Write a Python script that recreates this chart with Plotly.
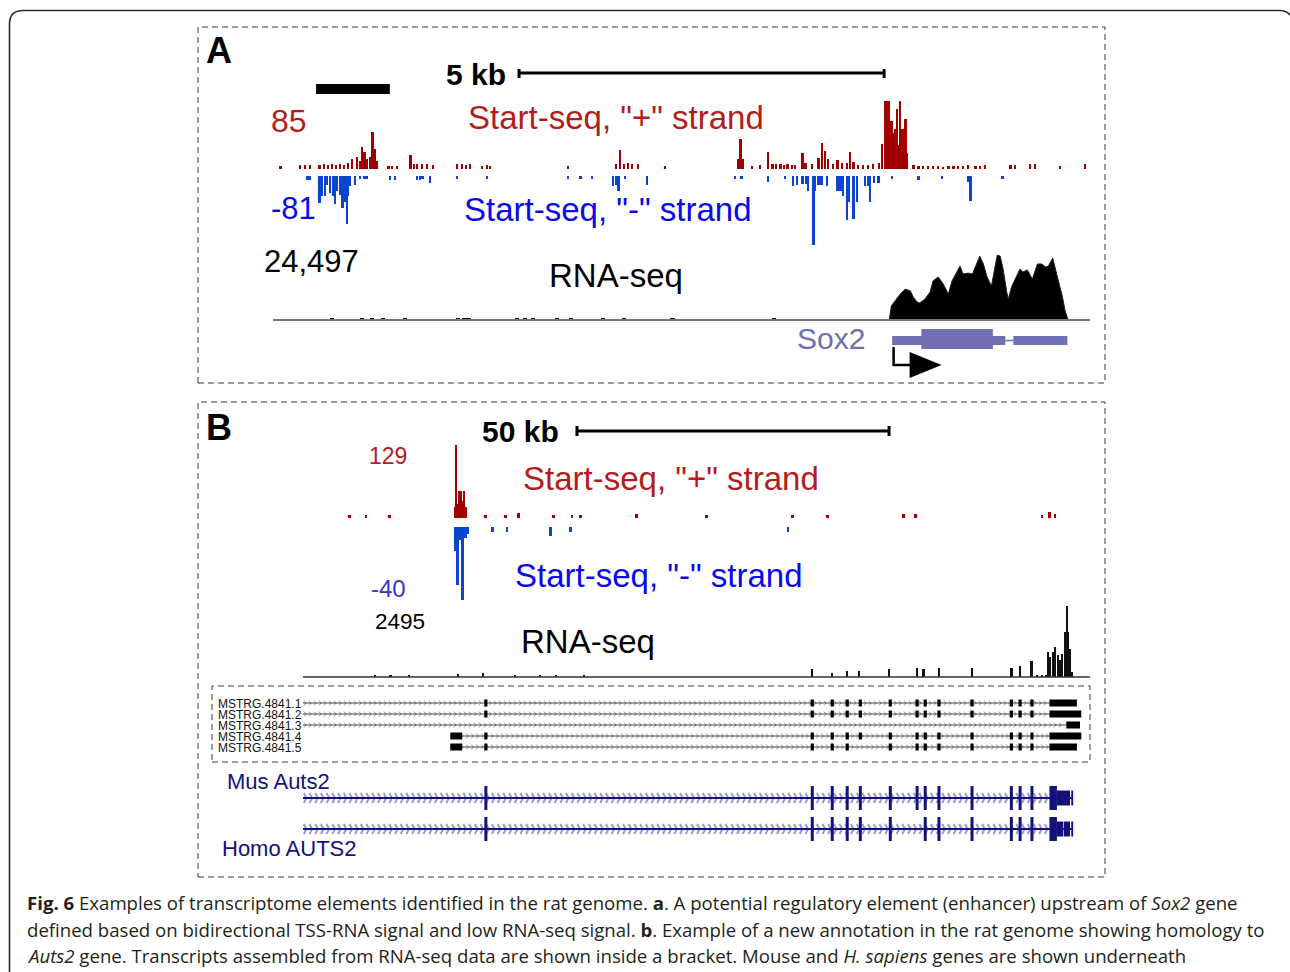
import plotly.graph_objects as go

# ---------------- canvas helpers ----------------
W, H = 1290, 972
def fx(p): return p / W
def fy(p): return 1 - p / H

FONT = "Liberation Sans, Arial, Helvetica, sans-serif"
CAP_FONT = "Open Sans, Noto Sans, sans-serif"
RED_TXT = "#b41c1c"
RED_BAR = "#a00000"
BLUE_TXT = "#0808f0"
BLUE_BAR = "#0a45d0"
SOX_COL = "#6f6fb2"
NAVY = "#12127a"
CHEV = "#8a8acc"

# ================= DATA : panel A (Sox2 locus, kb) =================
a_plus_pos = [0.10, 0.37, 0.44, 0.51, 0.64, 0.70, 0.75, 0.81, 0.86, 0.92, 0.97, 1.03,
              1.08, 1.15, 1.19, 1.22, 1.25, 1.29, 1.33, 1.36, 1.40, 1.42,
              1.58, 1.63, 1.70, 1.88, 1.93, 1.97, 2.04, 2.11, 2.19,
              2.52, 2.59, 2.64, 2.70, 2.86, 2.93, 2.97, 4.04,
              4.70, 4.75, 4.81, 4.86, 4.92, 5.00, 5.37,
              6.37, 6.40, 6.44, 6.56, 6.67, 6.78, 6.84, 6.89, 6.95, 7.00, 7.05,
              7.11, 7.15, 7.25, 7.29, 7.38, 7.47, 7.52, 7.56, 7.60,
              7.67, 7.73, 7.79, 7.86, 7.90, 7.95, 8.01, 8.08, 8.15, 8.22,
              8.30, 8.34, 8.38, 8.41, 8.44, 8.47, 8.49, 8.52, 8.55, 8.58, 8.59, 8.62, 8.63, 8.66, 8.68,
              8.77, 8.84, 8.90, 8.97, 9.04, 9.11, 9.18, 9.25, 9.32, 9.38, 9.45, 9.52, 9.62, 9.68, 9.75,
              10.10, 10.16, 10.37, 10.44, 10.78, 11.12]
a_plus_val = [4, 5, 5, 5, 5, 6, 5, 6, 5, 6, 5, 7,
              12, 15, 10, 28, 21, 12, 15, 46, 25, 10,
              4, 4, 4, 18, 6, 6, 6, 6, 5,
              6, 6, 5, 6, 4, 5, 4, 4,
              6, 24, 6, 8, 6, 6, 4,
              12, 38, 12, 4, 5, 21, 6, 6, 6, 5, 6,
              5, 5, 20, 8, 6, 14, 32, 22, 12,
              6, 11, 8, 8, 21, 9, 5, 5, 5, 6,
              8, 31, 85, 85, 85, 60, 45, 50, 75, 30, 85, 50, 40, 62, 20,
              5, 4, 4, 4, 4, 4, 3, 4, 4, 4, 4, 5, 4, 4, 5,
              5, 5, 6, 6, 4, 6]

a_minus_pos = [0.47, 0.51, 0.64, 0.67, 0.71, 0.74, 0.78, 0.82, 0.85, 0.88, 0.92, 0.95, 0.99, 1.01, 1.03, 1.05,
               1.12, 1.19, 1.25, 1.29, 1.60, 1.67, 1.97, 2.01, 2.05, 2.15, 2.52, 2.93,
               4.04, 4.21, 4.37, 4.66, 4.70, 4.73, 4.82, 5.12, 6.33, 6.42, 6.78, 7.01,
               7.12, 7.18, 7.25, 7.30, 7.33, 7.40, 7.42, 7.47, 7.51, 7.59,
               7.73, 7.77, 7.81, 7.86, 7.89, 7.95, 8.00, 8.11, 8.15, 8.18, 8.23, 8.29,
               8.48, 8.84, 9.16, 9.52, 9.55, 9.99]
a_minus_val = [5, 5, 32, 24, 24, 10, 20, 24, 33, 18, 22, 38, 30, 56, 24, 12,
               10, 4, 4, 3, 5, 5, 5, 5, 4, 8, 4, 4,
               4, 4, 4, 12, 10, 18, 4, 10, 4, 4, 7, 4,
               12, 10, 9, 9, 18, 81, 18, 10, 10, 12,
               18, 18, 24, 52, 30, 50, 30, 12, 12, 30, 8, 8,
               4, 5, 4, 7, 29, 3]

a_rna_pos = [8.44, 8.47, 8.59, 8.66, 8.73, 8.77, 8.82, 8.86, 8.93, 9.00, 9.04, 9.11, 9.18, 9.25,
             9.30, 9.37, 9.41, 9.45, 9.52, 9.58, 9.62, 9.68, 9.73, 9.78, 9.84, 9.89, 9.92, 9.96,
             10.00, 10.05, 10.07, 10.12, 10.19, 10.23, 10.27, 10.33, 10.40, 10.47, 10.53, 10.58,
             10.62, 10.68, 10.74, 10.81, 10.85, 10.89]
a_rna_val = [0, 5300, 9600, 11500, 10800, 8500, 6700, 6300, 7800, 10400, 14500, 16000, 13400, 9600,
             14500, 18200, 20000, 17100, 17400, 17100, 19700, 23700, 20800, 16000, 12600, 19700, 24100, 23700,
             18900, 10400, 7800, 12600, 16300, 18900, 17800, 18600, 15200, 20800, 20800, 19700,
             20000, 23000, 16300, 8900, 3300, 0]
a_rna_bg_pos = [0.81, 1.22, 1.36, 1.51, 1.81, 2.53, 2.62, 2.68, 3.34, 3.45, 3.56, 3.89, 4.08, 4.52, 4.81, 5.47, 6.86]
a_rna_bg_val = [700, 800, 700, 600, 700, 800, 600, 700, 600, 700, 600, 800, 600, 700, 700, 600, 800]

sox2_thin_start = [8.48, 10.14]
sox2_thin_end = [10.03, 10.88]
sox2_thick = [8.88, 9.86]
sox2_tss = 8.50
enhancer_region = [0.59, 1.60]
a_scale_start, a_scale_len = 3.37, 5
a_xrange = [0, 11.19]
a_plus_max, a_minus_max, a_rna_max = 85, 81, 24497

# ================= DATA : panel B (Auts2 locus, kb) =================
b_plus_pos = [7.5, 10.1, 13.9, 24.4, 24.5, 24.7, 25.0, 25.3, 25.5, 25.8, 26.1, 29.2, 32.4, 34.5,
              40.1, 43.1, 44.4, 53.5, 64.7, 78.4, 84.1, 96.2, 98.1, 118.4, 119.6, 120.5]
b_plus_val = [5, 5, 5, 20, 129, 25, 47, 47, 30, 47, 20, 5, 5, 9,
              5, 5, 5, 7, 5, 5, 5, 7, 7, 5, 10, 7]
b_minus_pos = [24.4, 24.7, 25.0, 25.3, 25.6, 26.0, 26.3, 30.4, 32.7, 39.6, 42.9, 77.7]
b_minus_val = [13, 32, 7, 7, 40, 6, 4, 2.5, 3, 5, 3, 2.5]
b_rna_pos = [11.5, 14.0, 17.0, 24.8, 28.8, 34.0, 38.0, 40.5, 45.0,
             81.6, 84.8, 87.2, 89.1, 93.9, 98.4, 99.4, 101.9, 107.2, 113.5, 114.9, 116.7,
             117.6, 118.4, 119.1, 119.4, 119.7, 120.2, 120.5, 121.0, 121.3, 121.6,
             122.1, 122.4, 122.6, 122.9, 123.2]
b_rna_val = [40, 40, 40, 100, 140, 50, 40, 50, 40,
             280, 140, 210, 210, 280, 315, 280, 315, 315, 315, 385, 560,
             70, 70, 70, 875, 700, 875, 1050, 770, 600, 805,
             1575, 2495, 1575, 980, 175]
b_scale_start, b_scale_len = 43.9, 50
b_xrange = [0, 126.1]
b_plus_max, b_minus_max, b_rna_max = 129, 40, 2495

core_exons = [29.3, 81.6, 84.8, 87.2, 89.3, 94.1, 98.4, 99.7, 101.9, 107.2, 113.5, 114.9, 116.8]
mstrg_names = ["MSTRG.4841.1", "MSTRG.4841.2", "MSTRG.4841.3", "MSTRG.4841.4", "MSTRG.4841.5"]
mstrg_line_start = [0, 0, 0, 23.6, 23.6]
mstrg_first_exon = [None, None, None, [23.6, 25.5], [23.6, 25.5]]
mstrg_exons = [core_exons, core_exons, [],
               core_exons, [e for e in core_exons if e != 89.3]]
mstrg_last_exon = [[119.6, 124.0], [119.6, 124.7], [122.3, 124.5], [119.6, 124.7], [119.6, 124.0]]

mus_exons = core_exons
homo_exons = [e for e in core_exons if e != 98.4]
ortho_line = [0, 123.3]
mus_utr_tall = [[119.6, 120.8]]
mus_utr_mid = [[120.8, 122.9], [123.1, 123.4]]
homo_utr_tall = [[119.6, 120.8]]
homo_utr_mid = [[120.8, 121.8], [121.9, 122.9], [123.1, 123.4]]

# ================= figure =================
fig = go.Figure()
shapes = []
annots = []

def rect(xref, x0, x1, y0, y1, color):
    shapes.append(dict(type="rect", xref=xref, yref="paper", x0=x0, x1=x1,
                       y0=fy(y1), y1=fy(y0), fillcolor=color, line=dict(width=0), layer="above"))

def hline(xref, x0, x1, y, color, width):
    shapes.append(dict(type="line", xref=xref, yref="paper", x0=x0, x1=x1, y0=fy(y), y1=fy(y),
                       line=dict(color=color, width=width), layer="above"))

def vline(xref, x, y0, y1, color, width):
    shapes.append(dict(type="line", xref=xref, yref="paper", x0=x, x1=x, y0=fy(y0), y1=fy(y1),
                       line=dict(color=color, width=width), layer="above"))

def dbox(x0, y0, x1, y1):
    shapes.append(dict(type="rect", xref="paper", yref="paper", x0=fx(x0), x1=fx(x1),
                       y0=fy(y1), y1=fy(y0), line=dict(color="#3a3a3a", width=1, dash="6px,4px"),
                       fillcolor="rgba(0,0,0,0)"))

def ann(text, x, y, size, color="#000", anchor="left", family=FONT):
    annots.append(dict(text=text, x=fx(x), y=fy(y), xref="paper", yref="paper",
                       xanchor=anchor, yanchor="middle", showarrow=False,
                       font=dict(family=family, size=size, color=color)))

def chevrons(x0, x1, step, y, dx, dy):
    xs, ys = [], []
    x = x0 + step * 0.6
    while x < x1 - step * 0.2:
        xs += [x - dx, x, x - dx, None]
        ys += [y - dy, y, y + dy, None]
        x += step
    return xs, ys

# ---- tracks: panel A ----
fig.add_trace(go.Bar(x=a_plus_pos, y=a_plus_val, width=0.034, marker=dict(color=RED_BAR, line_width=0),
                     xaxis="x", yaxis="y"))
fig.add_trace(go.Bar(x=a_minus_pos, y=[-v for v in a_minus_val], width=0.034,
                     marker=dict(color=BLUE_BAR, line_width=0), xaxis="x", yaxis="y2"))
fig.add_trace(go.Scatter(x=a_rna_pos, y=a_rna_val, mode="lines", fill="tozeroy", fillcolor="#000",
                         line=dict(color="#222", width=1), xaxis="x", yaxis="y3"))
fig.add_trace(go.Bar(x=a_rna_bg_pos, y=a_rna_bg_val, width=0.06, marker=dict(color="#000", line_width=0),
                     xaxis="x", yaxis="y3"))

# ---- tracks: panel B ----
fig.add_trace(go.Bar(x=b_plus_pos, y=b_plus_val, width=0.45, marker=dict(color=RED_BAR, line_width=0),
                     xaxis="x2", yaxis="y4"))
fig.add_trace(go.Bar(x=b_minus_pos, y=[-v for v in b_minus_val], width=0.45,
                     marker=dict(color=BLUE_BAR, line_width=0), xaxis="x2", yaxis="y5"))
fig.add_trace(go.Bar(x=b_rna_pos, y=b_rna_val, width=0.38, marker=dict(color="#111", line_width=0),
                     xaxis="x2", yaxis="y6"))

# ---- baselines ----
hline("x", a_xrange[0], a_xrange[1], 320, "#777", 2)
hline("x2", b_xrange[0], b_xrange[1], 677, "#333", 1.5)

# ---- scale bars and enhancer ----
hline("x", a_scale_start, a_scale_start + a_scale_len, 73, "#000", 3)
vline("x", a_scale_start, 69, 78, "#000", 3)
vline("x", a_scale_start + a_scale_len, 69, 78, "#000", 3)
rect("x", enhancer_region[0], enhancer_region[1], 84, 94, "#000")
hline("x2", b_scale_start, b_scale_start + b_scale_len, 431, "#000", 3)
vline("x2", b_scale_start, 426, 436, "#000", 3)
vline("x2", b_scale_start + b_scale_len, 426, 436, "#000", 3)

# ---- Sox2 gene model ----
for s, e in zip(sox2_thin_start, sox2_thin_end):
    rect("x", s, e, 336, 345, SOX_COL)
hline("x", sox2_thin_end[0], sox2_thin_start[1], 340.5, SOX_COL, 1.5)
rect("x", sox2_thick[0], sox2_thick[1], 329, 349, SOX_COL)
kb_px = (a_xrange[1] - a_xrange[0]) / (1090 - 273)
shapes.append(dict(type="path", xref="x", yref="paper",
                   path=f"M {sox2_tss},{fy(347)} L {sox2_tss},{fy(365)} L {sox2_tss + 18 * kb_px},{fy(365)}",
                   line=dict(color="#000", width=2.5), layer="above"))
shapes.append(dict(type="path", xref="x", yref="paper",
                   path=(f"M {sox2_tss + 16 * kb_px},{fy(352)} L {sox2_tss + 48 * kb_px},{fy(365)} "
                         f"L {sox2_tss + 16 * kb_px},{fy(378)} Z"),
                   fillcolor="#000", line=dict(width=0), layer="above"))

# ---- transcripts (MSTRG) ----
kb_px_b = (b_xrange[1] - b_xrange[0]) / (1090 - 303)
row_y = [703, 714, 725, 736, 747]
cx, cy = [], []
for i in range(5):
    y = row_y[i]
    last = mstrg_last_exon[i]
    hline("x2", mstrg_line_start[i], last[0], y, "#444", 1)
    xs, ys = chevrons(mstrg_line_start[i], last[0], 5 * kb_px_b, y, 2 * kb_px_b, 2.5)
    cx += xs; cy += ys
    if mstrg_first_exon[i]:
        rect("x2", mstrg_first_exon[i][0], mstrg_first_exon[i][1], y - 3.5, y + 3.5, "#000")
    for e in mstrg_exons[i]:
        rect("x2", e - 1.6 * kb_px_b, e + 1.6 * kb_px_b, y - 3.5, y + 3.5, "#000")
    rect("x2", last[0], last[1], y - 3.5, y + 3.5, "#000")
    ann(mstrg_names[i], 216, y + 0.5, 12, "#111")
fig.add_trace(go.Scatter(x=cx, y=cy, mode="lines", line=dict(color="#9a9a9a", width=1),
                         xaxis="x2", yaxis="y7"))

# ---- orthologous genes ----
gx, gy = [], []
for y, exons, tall, mid in [(798, mus_exons, mus_utr_tall, mus_utr_mid),
                            (829, homo_exons, homo_utr_tall, homo_utr_mid)]:
    xs, ys = chevrons(ortho_line[0], tall[0][0], 5.7 * kb_px_b, y, 2.6 * kb_px_b, 5)
    gx += xs; gy += ys
    hline("x2", ortho_line[0], ortho_line[1], y, NAVY, 2)
    for e in exons:
        rect("x2", e - 1.5 * kb_px_b, e + 1.5 * kb_px_b, y - 12, y + 12, NAVY)
    for s, e in tall:
        rect("x2", s, e, y - 12, y + 12, NAVY)
    for s, e in mid:
        rect("x2", s, e, y - 7.5, y + 7.5, NAVY)
fig.add_trace(go.Scatter(x=gx, y=gy, mode="lines", line=dict(color=CHEV, width=2),
                         opacity=0.85, xaxis="x2", yaxis="y7"))

# ---- frames ----
dbox(198, 27, 1105, 383)
dbox(198, 402, 1105, 877)
dbox(212, 686, 1090, 762)
frame = (f"M {fx(9.5)},{fy(972)} L {fx(9.5)},{fy(24)} Q {fx(9.5)},{fy(10.5)} {fx(23)},{fy(10.5)} "
         f"L {fx(1280)},{fy(10.5)} Q {fx(1287)},{fy(10.5)} {fx(1291)},{fy(16)}")
shapes.append(dict(type="path", xref="paper", yref="paper", path=frame,
                   line=dict(color="#2a2a2a", width=1.6)))

# ---- labels ----
ann("<b>A</b>", 204, 50, 36)
ann("<b>5 kb</b>", 444, 74, 30)
ann(str(a_plus_max), 269, 121, 32, RED_TXT)
ann('Start-seq, "+" strand', 466, 118, 33, RED_TXT)
ann(f"-{a_minus_max}", 269, 208, 31, BLUE_TXT)
ann('Start-seq, "-" strand', 462, 209, 33, BLUE_TXT)
ann(f"{a_rna_max:,}", 262, 262, 31, "#000")
ann("RNA-seq", 547, 275, 33, "#000")
ann("Sox2", 795, 338, 30, SOX_COL)

ann("<b>B</b>", 204, 427, 36)
ann("<b>50 kb</b>", 480, 431, 30)
ann(str(b_plus_max), 367, 456, 23, RED_TXT)
ann('Start-seq, "+" strand', 521, 478, 33, RED_TXT)
ann(f"-{b_minus_max}", 369, 588, 24, "#3838c0")
ann('Start-seq, "-" strand', 513, 575, 33, BLUE_TXT)
ann(str(b_rna_max), 373, 621, 22.5, "#000")
ann("RNA-seq", 519, 641, 33, "#000")
ann("Mus Auts2", 225, 781, 22, NAVY)
ann("Homo AUTS2", 220, 848, 22, NAVY)

cap = "#231f20"
ann("<b>Fig. 6</b> Examples of transcriptome elements identified in the rat genome. <b>a</b>. A potential "
    "regulatory element (enhancer) upstream of <i>Sox2</i> gene", 25, 902, 18.6, cap, family=CAP_FONT)
ann("defined based on bidirectional TSS-RNA signal and low RNA-seq signal. <b>b</b>. Example of a new "
    "annotation in the rat genome showing homology to", 25, 929, 18.6, cap, family=CAP_FONT)
ann("<i>Auts2</i> gene. Transcripts assembled from RNA-seq data are shown inside a bracket. Mouse and "
    "<i>H. sapiens</i> genes are shown underneath", 25, 955, 18.6, cap, family=CAP_FONT)

hidden = dict(visible=False, fixedrange=True)
fig.update_layout(
    width=W, height=H, autosize=False, margin=dict(l=0, r=0, t=0, b=0, pad=0),
    paper_bgcolor="white", plot_bgcolor="rgba(0,0,0,0)", showlegend=False, barmode="overlay",
    bargap=0,
    xaxis=dict(domain=[fx(273), fx(1090)], range=a_xrange, anchor="y", **hidden),
    xaxis2=dict(domain=[fx(303), fx(1090)], range=b_xrange, anchor="y4", **hidden),
    yaxis=dict(domain=[fy(169), fy(101)], range=[0, a_plus_max], anchor="x", **hidden),
    yaxis2=dict(domain=[fy(245), fy(176)], range=[-a_minus_max, 0], anchor="x", **hidden),
    yaxis3=dict(domain=[fy(320), fy(254)], range=[0, a_rna_max], anchor="x", **hidden),
    yaxis4=dict(domain=[fy(518), fy(445)], range=[0, b_plus_max], anchor="x2", **hidden),
    yaxis5=dict(domain=[fy(600), fy(527)], range=[-b_minus_max, 0], anchor="x2", **hidden),
    yaxis6=dict(domain=[fy(677), fy(606)], range=[0, b_rna_max], anchor="x2", **hidden),
    yaxis7=dict(domain=[0, 1], range=[H, 0], anchor="x2", **hidden),
    shapes=shapes, annotations=annots,
)

fig.write_html("out.html", config={"displayModeBar": False},
               post_script="document.body.style.margin='0px';document.body.style.overflow='hidden';")
